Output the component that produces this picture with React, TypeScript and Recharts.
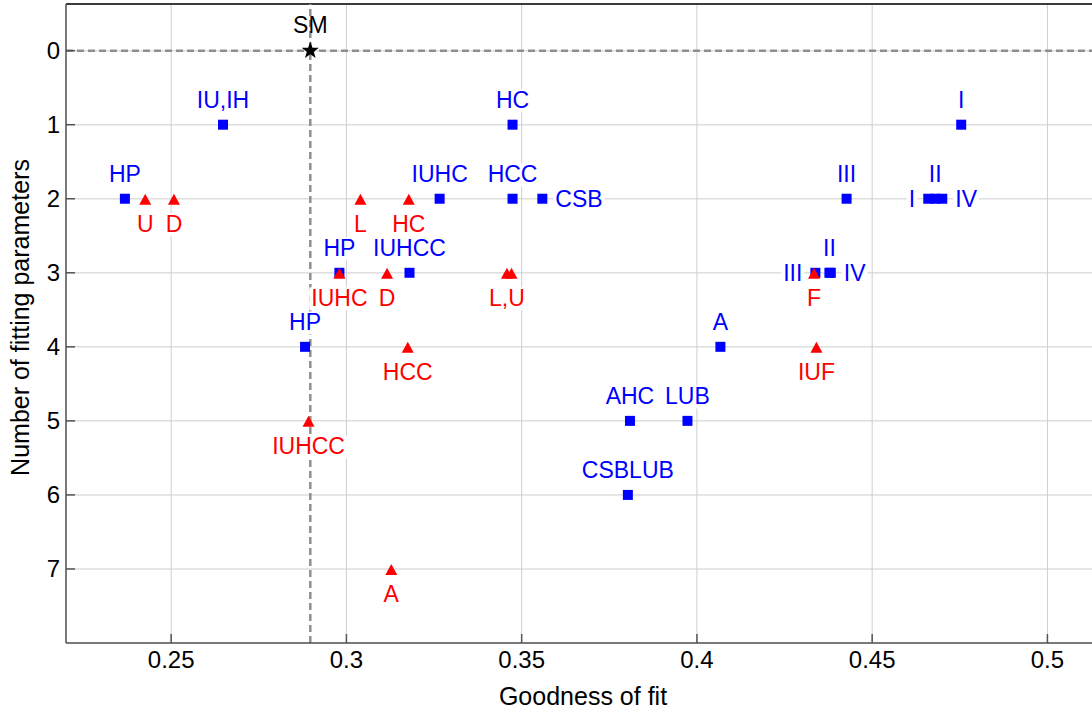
import React from "react";
import {
  ScatterChart,
  Scatter,
  XAxis,
  YAxis,
  CartesianGrid,
  ReferenceLine,
} from "recharts";

// Blue squares (labels above unless listed in BLUE_SIDES)
const BLUE_POINTS = [
  { label: "IU,IH", x: 0.2648, y: 1 },
  { label: "HP", x: 0.2368, y: 2 },
  { label: "HC", x: 0.3474, y: 1 },
  { label: "IUHC", x: 0.3266, y: 2 },
  { label: "HCC", x: 0.3474, y: 2 },
  { label: "CSB", x: 0.3559, y: 2 },
  { label: "I", x: 0.4754, y: 1 },
  { label: "III", x: 0.4427, y: 2 },
  { label: "I", x: 0.466, y: 2 },
  { label: "II", x: 0.468, y: 2 },
  { label: "IV", x: 0.47, y: 2 },
  { label: "HP", x: 0.298, y: 3 },
  { label: "IUHCC", x: 0.318, y: 3 },
  { label: "HP", x: 0.2882, y: 4 },
  { label: "III", x: 0.4338, y: 3 },
  { label: "II", x: 0.4378, y: 3 },
  { label: "IV", x: 0.4382, y: 3 },
  { label: "A", x: 0.4067, y: 4 },
  { label: "AHC", x: 0.3809, y: 5 },
  { label: "LUB", x: 0.3973, y: 5 },
  { label: "CSBLUB", x: 0.3803, y: 6 },
];

// Red triangles (labels below)
const RED_POINTS = [
  { label: "U", x: 0.2426, y: 2 },
  { label: "D", x: 0.2508, y: 2 },
  { label: "L", x: 0.304, y: 2 },
  { label: "HC", x: 0.3178, y: 2 },
  { label: "IUHC", x: 0.298, y: 3 },
  { label: "D", x: 0.3116, y: 3 },
  { label: "L,U", x: 0.3458, y: 3 },
  { label: "", x: 0.3471, y: 3 },
  { label: "HCC", x: 0.3175, y: 4 },
  { label: "IUHCC", x: 0.2892, y: 5 },
  { label: "A", x: 0.3128, y: 7 },
  { label: "F", x: 0.4334, y: 3 },
  { label: "IUF", x: 0.4341, y: 4 },
];

const SM_POINT = [{ label: "SM", x: 0.2897, y: 0 }];

const X_TICKS = [0.25, 0.3, 0.35, 0.4, 0.45, 0.5];
const Y_TICKS = [0, 1, 2, 3, 4, 5, 6, 7];
const X_DOMAIN = [0.22, 0.515];
const Y_DOMAIN = [-0.63, 8];

// labels that sit beside their square instead of above it
const BLUE_SIDES: Record<string, "left" | "right"> = {
  "CSB@2": "right",
  "I@2": "left",
  "IV@2": "right",
  "III@3": "left",
  "IV@3": "right",
};

const BLUE = "#0000ff";
const RED = "#ff0000";
const FONT = "'Liberation Sans', Arial, sans-serif";
const FS = 23;

const CHAR_W: Record<string, number> = {
  A: 0.667, B: 0.667, C: 0.722, D: 0.722, F: 0.611, H: 0.722, I: 0.278,
  L: 0.556, M: 0.833, P: 0.667, S: 0.667, U: 0.722, V: 0.667, ",": 0.278,
};

function textWidth(s: string) {
  let w = 0;
  for (const ch of s) w += CHAR_W[ch] ?? 0.65;
  return w * FS;
}

// text with a white box behind it (hides grid lines like the original)
function BoxLabel(props: {
  x: number;
  y: number;
  text: string;
  anchor: "start" | "middle" | "end";
  color: string;
}) {
  const { x, y, text, anchor, color } = props;
  if (!text) return null;
  const w = textWidth(text);
  const left = anchor === "middle" ? x - w / 2 : anchor === "end" ? x - w : x;
  return (
    <g>
      <rect x={left - 2} y={y - FS * 0.8} width={w + 4} height={FS} fill="#fff" />
      <text
        x={x}
        y={y}
        textAnchor={anchor}
        fill={color}
        fontSize={FS}
        fontFamily={FONT}
      >
        {text}
      </text>
    </g>
  );
}

function BlueShape(props: any) {
  const { cx, cy, payload } = props;
  const side = BLUE_SIDES[`${payload.label}@${payload.y}`];
  let lbl;
  if (side === "right") {
    lbl = <BoxLabel x={cx + 13} y={cy + 8} text={payload.label} anchor="start" color={BLUE} />;
  } else if (side === "left") {
    lbl = <BoxLabel x={cx - 13} y={cy + 8} text={payload.label} anchor="end" color={BLUE} />;
  } else {
    lbl = <BoxLabel x={cx} y={cy - 17} text={payload.label} anchor="middle" color={BLUE} />;
  }
  return (
    <g>
      {lbl}
      <rect x={cx - 5} y={cy - 5} width={10} height={10} fill={BLUE} />
    </g>
  );
}

function RedShape(props: any) {
  const { cx, cy, payload } = props;
  return (
    <g>
      <BoxLabel x={cx} y={cy + 33} text={payload.label} anchor="middle" color={RED} />
      <polygon
        points={`${cx},${cy - 5} ${cx + 6},${cy + 6} ${cx - 6},${cy + 6}`}
        fill={RED}
      />
    </g>
  );
}

function StarShape(props: any) {
  const { cx, cy, payload } = props;
  const pts: string[] = [];
  for (let i = 0; i < 10; i++) {
    const r = i % 2 === 0 ? 9 : 3.7;
    const a = -Math.PI / 2 + (i * Math.PI) / 5;
    pts.push(`${cx + r * Math.cos(a)},${cy + r * Math.sin(a)}`);
  }
  return (
    <g>
      <text x={cx} y={cy - 18} textAnchor="middle" fontSize={FS} fontFamily={FONT} fill="#000">
        {payload.label}
      </text>
      <polygon points={pts.join(" ")} fill="#000" />
    </g>
  );
}

function XTitle(props: any) {
  const vb = props.viewBox;
  return (
    <text
      x={vb.x + vb.width / 2}
      y={vb.y + 62}
      textAnchor="middle"
      fontSize={25}
      fontFamily={FONT}
      fill="#000"
    >
      Goodness of fit
    </text>
  );
}

function YTitle(props: any) {
  const vb = props.viewBox;
  const cx = vb.x + 29;
  const cy = vb.y + vb.height / 2 - 6;
  return (
    <text
      x={cx}
      y={cy}
      transform={`rotate(-90, ${cx}, ${cy})`}
      textAnchor="middle"
      fontSize={25}
      fontFamily={FONT}
      fill="#000"
    >
      Number of fitting parameters
    </text>
  );
}

const tickStyle = { fill: "#000", fontSize: 24, fontFamily: FONT };

export default function App() {
  return (
    <div
      style={{
        position: "absolute",
        left: 0,
        top: 0,
        width: 1092,
        height: 719,
        overflow: "hidden",
        background: "#fff",
      }}
    >
      <ScatterChart
        width={1110}
        height={719}
        margin={{ top: 4, right: 10, bottom: 0, left: 0 }}
      >
        <CartesianGrid vertical={false} stroke="#dedede" strokeWidth={1.5} />
        <CartesianGrid horizontal={false} stroke="#cfcfcf" strokeWidth={1} />
        <XAxis
          type="number"
          dataKey="x"
          domain={X_DOMAIN}
          ticks={X_TICKS}
          interval={0}
          allowDataOverflow
          height={76}
          tickSize={-9}
          tickMargin={17}
          tick={tickStyle}
          tickFormatter={(v) => String(v)}
          axisLine={{ stroke: "#555", strokeWidth: 1.5 }}
          tickLine={{ stroke: "#555", strokeWidth: 1.5 }}
          label={{ content: (p: any) => <XTitle {...p} /> }}
        />
        <YAxis
          type="number"
          dataKey="y"
          reversed
          domain={Y_DOMAIN}
          ticks={Y_TICKS}
          interval={0}
          allowDataOverflow
          width={66}
          tickSize={-9}
          tickMargin={15}
          tick={tickStyle}
          axisLine={{ stroke: "#555", strokeWidth: 1.5 }}
          tickLine={{ stroke: "#555", strokeWidth: 1.5 }}
          label={{ content: (p: any) => <YTitle {...p} /> }}
        />
        <ReferenceLine y={Y_DOMAIN[0]} stroke="#000" strokeWidth={1.5} />
        <ReferenceLine y={0} stroke="#8f8f8f" strokeWidth={2.5} strokeDasharray="7 4" />
        <ReferenceLine
          x={SM_POINT[0].x}
          stroke="#8f8f8f"
          strokeWidth={2.5}
          strokeDasharray="7 4"
        />
        <Scatter data={BLUE_POINTS} shape={BlueShape} isAnimationActive={false} />
        <Scatter data={RED_POINTS} shape={RedShape} isAnimationActive={false} />
        <Scatter data={SM_POINT} shape={StarShape} isAnimationActive={false} />
      </ScatterChart>
    </div>
  );
}
